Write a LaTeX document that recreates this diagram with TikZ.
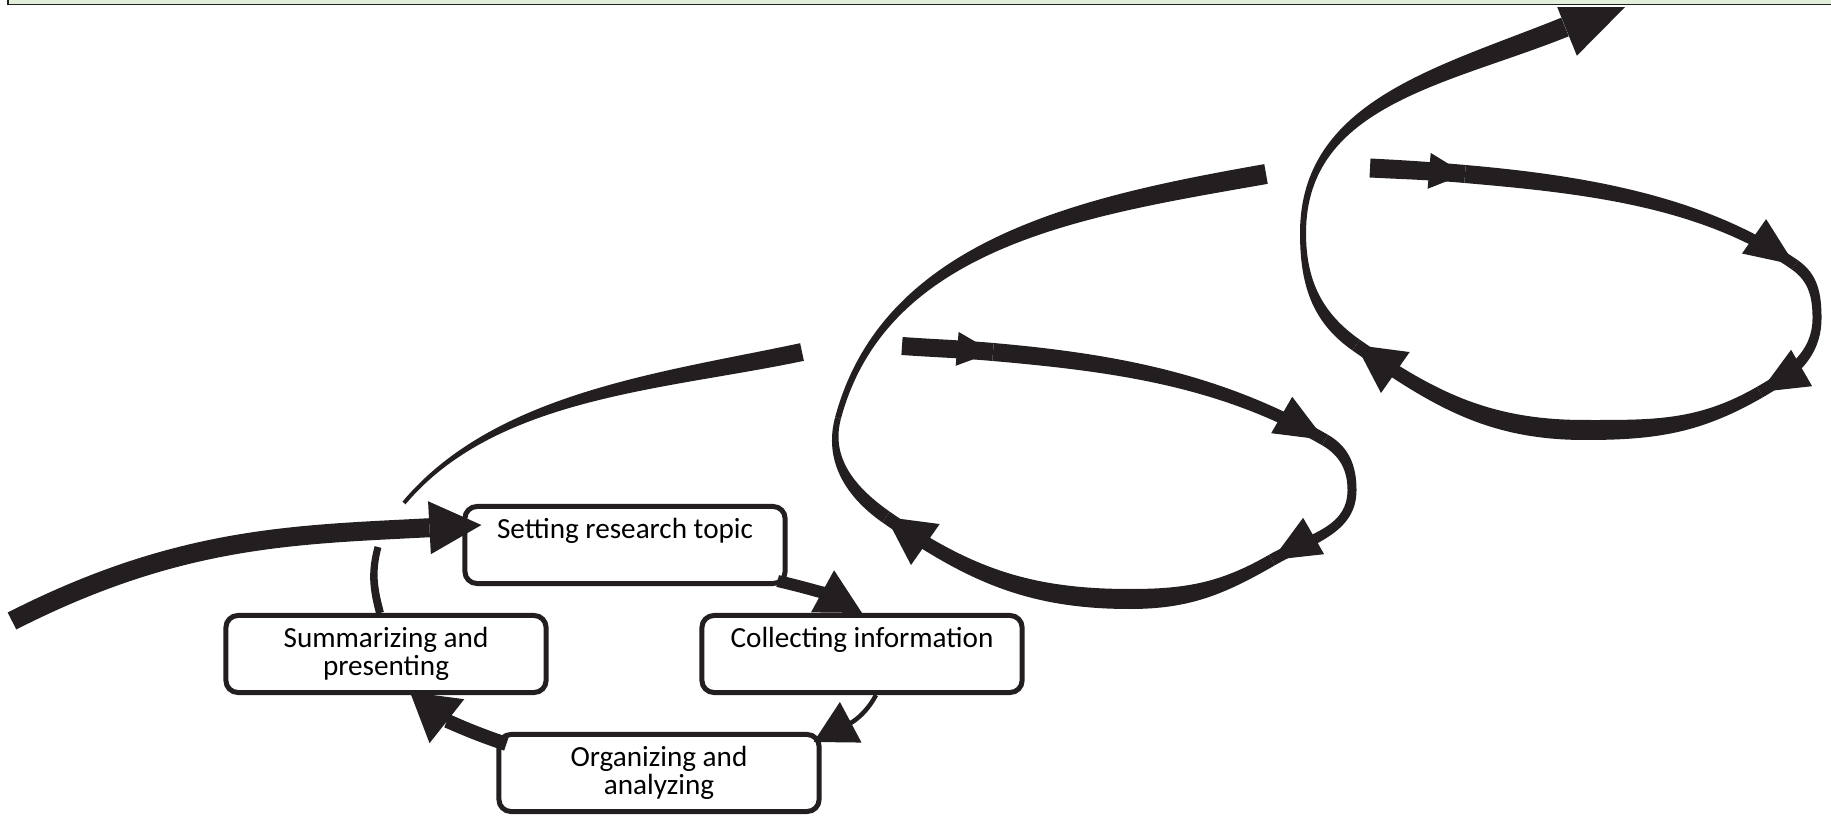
\documentclass[tikz,border=0pt]{standalone}
\usepackage{fontspec}
\setmainfont{Carlito}
\usetikzlibrary{calc}
\usetikzlibrary{arrows.meta}

\definecolor{ink}{RGB}{35,31,32}
\definecolor{bandgreen}{RGB}{226,239,218}

% tapered stroke: [looseness] start, start heading, end, end heading, start width, end width
\newcommand{\band}[7][1]{%
  \pgfmathsetmacro{\bandback}{#5+180}%
  \fill[ink] ($(#2)+({#3+90}:{#6/2})$)
    to[out=#3,in=\bandback,looseness=#1] ($(#4)+({#5+90}:{#7/2})$)
    -- ($(#4)+({#5-90}:{#7/2})$)
    to[out=\bandback,in=#3,looseness=#1] ($(#2)+({#3-90}:{#6/2})$) -- cycle;}
% arrow head: tip, heading, length, width
\newcommand{\head}[4]{%
  \fill[ink,shift={(#1)},rotate=#2] (0,0) -- (-#3,#4/2) -- (-#3,-#4/2) -- cycle;}

\tikzset{
  stage/.style={draw=ink, line width=0.05cm, rounded corners=0.12cm, fill=white,
    minimum width=3.2cm, minimum height=0.77cm, align=center, inner sep=0pt,
    font=\fontsize{8.3}{7.9}\selectfont},
  link/.style={draw=ink, line cap=butt},
}

\begin{document}
\begin{tikzpicture} [x=0.01cm,y=0.01cm]
\useasboundingbox (0,0) rectangle (1831,818);

\begin{scope}
\clip (0,0) rectangle (1831,810);

\node[stage] (setting) at (625,273) {Setting research topic\\\vphantom{g}};
\node[stage] (summ) at (386,164) {Summarizing and\\presenting};
\node[stage] (collect) at (862,164) {Collecting information\\\vphantom{g}};
\node[stage] (organ) at (659,45) {Organizing and\\analyzing};

\coordinate (entry) at (12,197);
\draw[link,line width=0.19cm,-{Triangle[length=0.52cm,width=0.53cm,line width=0pt]}]
  (entry) to[out=27,in=183] ([shift={(19,20)}]setting.west);
\draw[link,line width=0.12cm,-{Triangle[length=0.45cm,width=0.48cm,line width=0pt]}]
  ([shift={(-10,5)}]setting.south east) to[bend left=8] (collect.north);
\draw[link,line width=0.045cm,-{Triangle[length=0.42cm,width=0.46cm,line width=0pt]}]
  ([shift={(14,0)}]collect.south) to[out=-118,in=28] ([shift={(-8,-10)}]organ.north east);
\draw[link,line width=0.14cm,-{Triangle[length=0.47cm,width=0.56cm,line width=0pt]}]
  ([shift={(10,-12)}]organ.north west) to[bend left=10] ([shift={(24,3)}]summ.south);

% first turn
\coordinate (u0) at ([shift={(-6,0)}]summ.north);
\coordinate (u1) at (378,271);
\coordinate (u2) at (404,315);
\coordinate (u3) at (802,466);
% second turn
\coordinate (v0) at (902,472);
\coordinate (v1) at (993,466);
\coordinate (v2) at (1325,378);
\coordinate (v3) at (1352,328);
\coordinate (v4) at (1272,258);
\coordinate (v5) at (1130,219);
\coordinate (v6) at (886,301);
\coordinate (v7) at (838,400);
\coordinate (v8) at (1266,644);
% third turn
\coordinate (w0) at (1370,650);
\coordinate (w1) at (1465,644);
\coordinate (w2) at (1795,553);
\coordinate (w3) at (1817,500);
\coordinate (w4) at (1760,426);
\coordinate (w5) at (1585,388);
\coordinate (w6) at (1356,473);
\coordinate (w7) at (1303,585);
\coordinate (w8) at (1565,791);
\coordinate (w9) at (1632,818);

\band{u0}{105}{u1}{75}{8}{7}
\band[0.85]{u2}{50}{u3}{12}{4}{18}

\band{v0}{-4}{v1}{-5}{18}{18}
\band[0.9]{v1}{-5}{v2}{-30}{18}{12}
\band{v2}{-30}{v3}{-90}{12}{9}
\band{v3}{-90}{v4}{-150}{9}{12}
\band{v4}{-150}{v5}{180}{12}{20}
\band{v5}{180}{v6}{145}{20}{13}
\band{v6}{145}{v7}{75}{13}{6}
\band[0.95]{v7}{75}{v8}{10}{6}{20}
\head{v1}{-5}{36}{34}
\head{v2}{-30}{50}{42}
\head{v4}{-150}{48}{42}
\head{v6}{145}{48}{50}

\band{w0}{-3}{w1}{-5}{19}{18}
\band[0.85]{w1}{-5}{w2}{-35}{18}{11}
\band{w2}{-35}{w3}{-90}{11}{9}
\band{w3}{-90}{w4}{-150}{9}{12}
\band{w4}{-150}{w5}{180}{12}{20}
\band{w5}{180}{w6}{145}{20}{13}
\band{w6}{145}{w7}{90}{13}{6}
\band{w7}{90}{w8}{22}{6}{20}
\head{w1}{-5}{36}{36}
\head{w2}{-35}{50}{42}
\head{w4}{-150}{48}{42}
\head{w6}{145}{48}{50}
\head{w9}{22}{72}{62}
\end{scope}

\fill[bandgreen] (8,813.5) rectangle (1831,818);
\draw[ink,line width=0.015cm] (8,818) -- (8,813.5) -- (1831,813.5);
\end{tikzpicture}
\end{document}
